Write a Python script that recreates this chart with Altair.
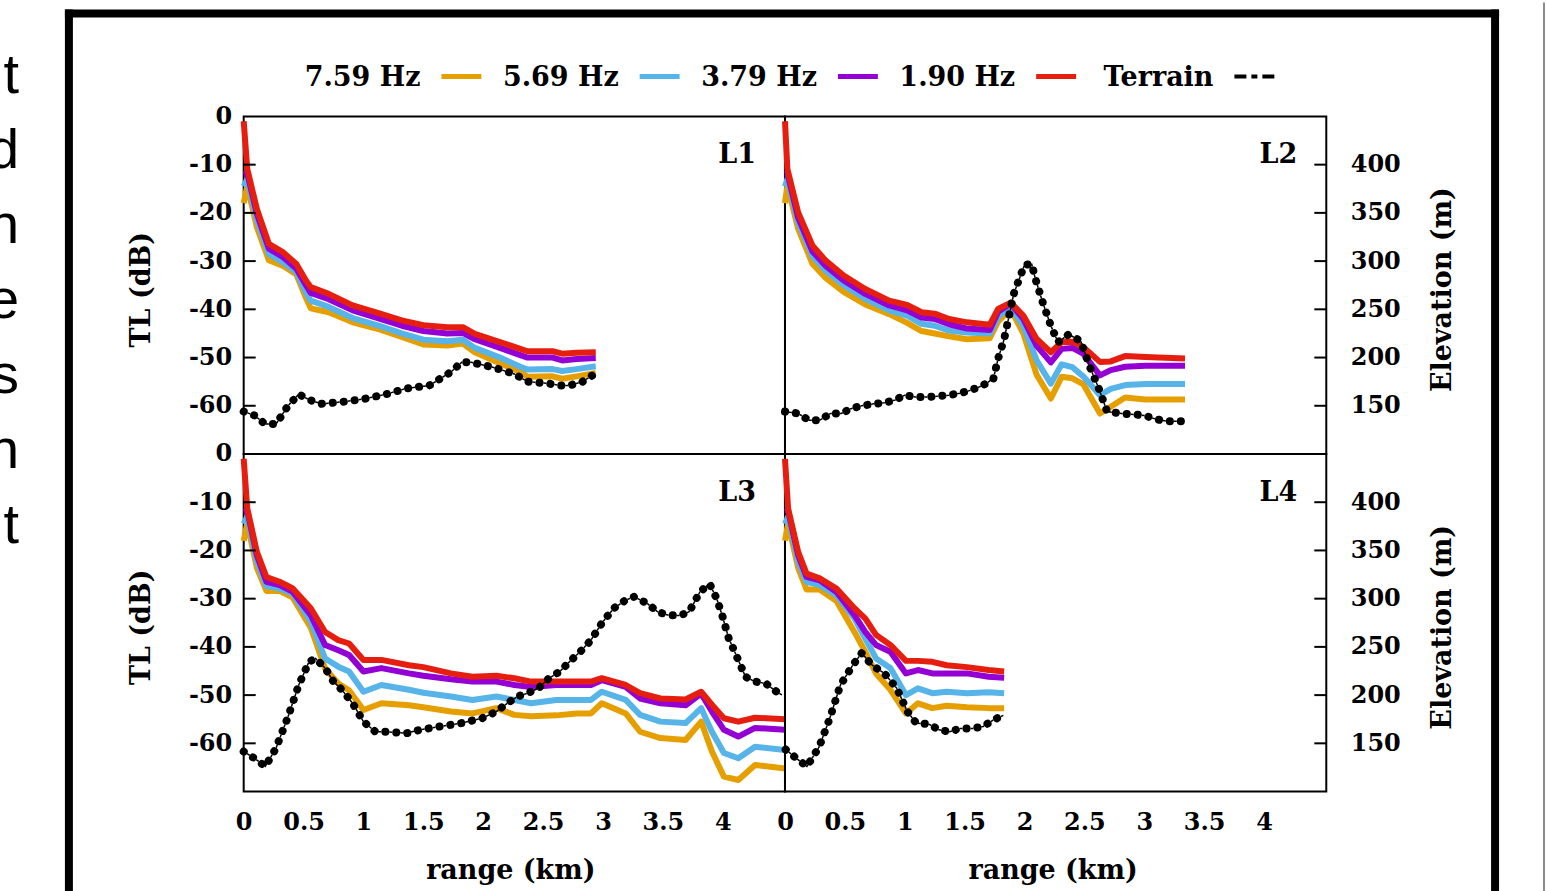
import altair as alt
import pandas as pd

# ---------------- data ----------------
FREQ_LABELS = ["7.59 Hz", "5.69 Hz", "3.79 Hz", "1.90 Hz"]
FREQ_COLORS = ["#E69F00", "#56B4E9", "#9400D3", "#E51E10"]
LEGEND_LABELS = ["7.59 Hz", "5.69 Hz", "3.79 Hz", "1.90 Hz", "Terrain"]
PANEL_LABELS = ["L1", "L2", "L3", "L4"]
SLIDE_LETTERS = ["t", "d", "n", "e", "s", "n", "t"]
TL_TICKS = [-60, -50, -40, -30, -20, -10, 0]
ELEV_TICKS = [150, 200, 250, 300, 350, 400]
RANGE_TICKS = [0, 0.5, 1, 1.5, 2, 2.5, 3, 3.5, 4]

# L1
L1_RANGE = [0.0, 0.03, 0.11, 0.21, 0.33, 0.44, 0.52, 0.56, 0.71, 0.91, 1.14, 1.32,
            1.50, 1.70, 1.83, 1.93, 2.14, 2.31, 2.37, 2.58, 2.66, 2.78, 2.94]
L1_TL_759 = [-18.0, -14.4, -23.0, -29.8, -31.0, -32.8, -37.6, -39.8, -40.6, -42.7, -44.2, -45.7,
             -47.3, -47.5, -47.1, -48.9, -51.2, -53.0, -54.0, -53.9, -54.4, -53.9, -53.2]
L1_TL_569 = [-14.5, -13.0, -21.5, -28.5, -30.3, -32.2, -36.5, -38.2, -39.5, -41.8, -43.5, -45.0,
             -46.3, -46.6, -46.3, -48.0, -50.0, -51.9, -52.5, -52.4, -52.8, -52.4, -51.8]
L1_TL_379 = [-12.0, -11.8, -20.2, -27.4, -29.2, -31.6, -35.0, -36.6, -37.9, -40.2, -42.0, -43.4,
             -44.5, -45.0, -44.9, -46.2, -48.0, -49.5, -50.0, -50.0, -50.6, -50.3, -50.1]
L1_TL_190 = [-1.0, -10.9, -19.2, -26.4, -28.2, -30.6, -34.0, -35.4, -36.8, -39.2, -40.9, -42.3,
             -43.3, -43.7, -43.7, -45.1, -46.8, -48.2, -48.7, -48.7, -49.2, -49.0, -48.9]
L1_TERR_RANGE = [0.0, 0.09, 0.18, 0.27, 0.37, 0.46, 0.55, 0.65, 0.82, 1.0, 1.19, 1.36,
                 1.55, 1.73, 1.82, 1.90, 2.08, 2.26, 2.37, 2.55, 2.64, 2.72, 2.83, 2.93]
L1_TERR_ELEV = [144, 140, 131, 131, 150, 162, 156, 152, 154, 157, 162, 168,
                171, 185, 195, 195, 190, 183, 175, 173, 171, 171, 175, 183]

# L2
L2_RANGE = [0.0, 0.02, 0.11, 0.23, 0.34, 0.49, 0.67, 0.87, 1.02, 1.14, 1.25, 1.37, 1.52, 1.71,
            1.78, 1.885, 1.99, 2.10, 2.22, 2.31, 2.40, 2.49, 2.63, 2.72, 2.84, 3.01, 3.34]
L2_TL_759 = [-18.0, -14.4, -23.3, -30.6, -33.5, -36.4, -39.0, -41.0, -42.8, -44.5, -45.0, -45.6, -46.2, -46.0,
             -42.5, -40.0, -45.0, -53.5, -58.5, -54.0, -54.3, -55.5, -61.6, -60.2, -58.3, -58.7, -58.7]
L2_TL_569 = [-14.5, -13.0, -22.0, -29.0, -32.0, -35.0, -37.8, -40.2, -41.3, -43.0, -43.4, -44.4, -44.8, -45.0,
             -41.5, -39.5, -43.5, -50.5, -55.4, -51.4, -52.0, -53.9, -57.8, -56.5, -55.7, -55.5, -55.5]
L2_TL_379 = [-12.0, -11.8, -21.0, -28.0, -31.0, -34.0, -36.8, -39.2, -40.2, -41.7, -42.0, -43.1, -44.0, -44.3,
             -40.5, -38.8, -42.0, -47.5, -51.0, -48.2, -48.0, -49.2, -53.7, -52.6, -51.9, -51.7, -51.7]
L2_TL_190 = [-1.0, -10.9, -19.9, -26.8, -29.9, -33.0, -35.8, -38.2, -39.1, -40.6, -40.9, -42.0, -42.7, -43.2,
             -39.9, -38.6, -41.3, -46.1, -48.9, -46.8, -46.7, -47.8, -50.9, -50.8, -49.7, -49.9, -50.2]
L2_TERR_RANGE = [0.0, 0.11, 0.2, 0.29, 0.38, 0.47, 0.55, 0.64, 0.74, 0.83,
                 0.92, 1.0, 1.09, 1.19, 1.28, 1.37, 1.46, 1.55, 1.65, 1.74,
                 1.78, 1.83, 1.91, 2.0, 2.06, 2.09, 2.15, 2.22, 2.28, 2.37,
                 2.47, 2.54, 2.62, 2.69, 2.81, 2.91, 3.0, 3.1, 3.19, 3.29, 3.34]
L2_TERR_ELEV = [144, 142, 135, 135, 142, 142, 147, 150, 152, 153,
                156, 161, 159, 159, 160, 161, 163, 166, 171, 178,
                199, 219, 266, 296, 297, 282, 258, 233, 216, 224,
                217, 192, 168, 144, 142, 141, 140, 136, 134, 134, 134]

# L3
L3_RANGE = [0.0, 0.03, 0.11, 0.19, 0.30, 0.41, 0.56, 0.68, 0.79, 0.88,
            1.0, 1.15, 1.38, 1.50, 1.73, 1.91, 2.11, 2.26, 2.40, 2.61,
            2.78, 2.90, 2.99, 3.19, 3.31, 3.48, 3.69, 3.82, 3.91, 4.01,
            4.13, 4.27, 4.52]
L3_TL_759 = [-18.0, -14.4, -23.6, -28.4, -28.4, -29.8, -36.0, -44.5, -47.6, -49.0,
             -53.1, -51.7, -52.1, -52.5, -53.4, -53.8, -52.7, -54.1, -54.4, -54.2,
             -53.8, -53.8, -51.7, -53.8, -57.6, -58.9, -59.3, -55.5, -61.7, -66.9,
             -67.6, -64.5, -65.2]
L3_TL_569 = [-14.5, -13.0, -22.3, -27.4, -27.9, -29.0, -34.7, -42.4, -44.1, -45.1,
             -49.3, -47.9, -48.9, -49.5, -50.3, -51.0, -50.3, -51.0, -51.7, -51.0,
             -51.0, -51.0, -49.3, -51.0, -54.1, -55.5, -55.8, -52.7, -57.6, -62.0,
             -63.1, -60.7, -61.4]
L3_TL_379 = [-12.0, -11.8, -21.0, -26.5, -27.2, -28.6, -33.4, -39.6, -40.7, -41.7,
             -45.1, -44.4, -45.5, -46.0, -46.7, -47.2, -47.2, -47.9, -48.3, -47.9,
             -47.9, -47.9, -46.9, -48.3, -50.7, -51.7, -52.1, -49.7, -53.4, -57.2,
             -58.6, -56.8, -57.2]
L3_TL_190 = [-1.0, -11.3, -20.3, -25.5, -26.5, -27.9, -32.0, -36.9, -38.6, -39.3,
             -42.7, -42.7, -43.8, -44.2, -45.5, -46.2, -46.0, -46.5, -47.2, -47.2,
             -47.2, -47.2, -46.5, -47.9, -49.6, -50.7, -50.9, -49.3, -52.0, -54.8,
             -55.5, -54.7, -55.0]
L3_TERR_RANGE = [0.0, 0.09, 0.18, 0.27, 0.37, 0.46, 0.545, 0.60, 0.68, 0.75,
                 0.82, 0.91, 1.0, 1.1, 1.2, 1.36, 1.47, 1.64, 1.82, 1.99,
                 2.11, 2.2, 2.285, 2.37, 2.46, 2.55, 2.64, 2.72, 2.81, 2.9,
                 2.99, 3.09, 3.19, 3.26, 3.37, 3.455, 3.54, 3.645, 3.72, 3.81,
                 3.89, 3.95, 3.995, 4.05, 4.10, 4.19, 4.27, 4.36, 4.45, 4.52]
L3_TERR_ELEV = [141.5, 134.5, 126, 145, 177.5, 210.5, 234.5, 238, 228, 214,
                205.5, 191.5, 172.5, 162, 162, 160.5, 164, 167.5, 171, 176,
                183, 191.5, 198.5, 202, 207, 217.5, 224.5, 234.5, 245, 257,
                274.5, 290, 298.5, 302, 295, 286.5, 283, 282.5, 286.5, 307,
                315.5, 300, 283, 259, 245, 219, 214, 212, 203.5, 198.5]

# L4
L4_RANGE = [0.0, 0.026, 0.11, 0.18, 0.29, 0.43, 0.58, 0.67, 0.76, 0.88,
            1.01, 1.11, 1.23, 1.35, 1.52, 1.70, 1.83]
L4_TL_759 = [-18.0, -14.4, -23.6, -28.1, -28.1, -30.5, -36.9, -41.0, -45.5, -48.9,
             -53.8, -51.7, -52.7, -52.2, -52.5, -52.7, -52.7]
L4_TL_569 = [-14.5, -13.0, -22.3, -26.5, -27.2, -29.3, -34.1, -38.2, -42.4, -44.4,
             -50.0, -48.6, -49.6, -49.3, -49.6, -49.4, -49.6]
L4_TL_379 = [-12.0, -11.8, -21.0, -25.5, -26.2, -28.6, -33.4, -36.9, -39.6, -41.0,
             -45.5, -44.8, -45.5, -45.5, -45.5, -46.2, -46.4]
L4_TL_190 = [-1.0, -11.3, -20.3, -24.8, -25.8, -27.9, -32.0, -34.1, -37.5, -39.6,
             -42.9, -42.9, -43.1, -43.8, -44.2, -44.8, -45.1]
L4_TERR_RANGE = [0.006, 0.095, 0.183, 0.286, 0.374, 0.463, 0.566, 0.64, 0.728, 0.83,
                 0.934, 1.022, 1.096, 1.2, 1.287, 1.375, 1.464, 1.567, 1.655, 1.744, 1.832]
L4_TERR_ELEV = [143.5, 134.5, 126, 146.5, 176, 210.5, 231, 243.5, 231, 222.5,
                207, 183, 171, 170, 164, 162, 165.5, 165.5, 167.5, 174.5, 179.5]

# ---------------- layout constants ----------------
W, H = 542, 338
SERIF = "DejaVu Serif"


def sx():
    return alt.Scale(domain=[0, 4.52], nice=False, zero=False)


def stl():
    return alt.Scale(domain=[-70, 0], nice=False, zero=False)


def sel():
    return alt.Scale(domain=[100, 450], nice=False, zero=False)


def panel(idx, rng, series, trng, telev, left, bottom, pre=(), post=()):
    layers = list(pre)
    for k, (vals, col) in enumerate(zip(series, FREQ_COLORS)):
        df = pd.DataFrame({"range": rng, "TL": vals})
        x_axis = None
        y_axis = None
        if k == 0 and bottom:
            x_axis = alt.Axis(values=RANGE_TICKS, labelExpr="'' + datum.value",
                              labelPadding=19, labelFlush=False, title="range (km)",
                              titleX=267 if left else 268, titleY=79,
                              titleBaseline="middle", titleAlign="center")
        if k == 0 and left:
            y_axis = alt.Axis(values=TL_TICKS, labelExpr="'' + datum.value",
                              labelPadding=12, title="TL (dB)", titleX=-102, titleY=173,
                              titleAngle=270, titleBaseline="middle", titleAlign="center")
        layers.append(
            alt.Chart(df).mark_line(color=col, strokeWidth=6, strokeJoin="round").encode(
                x=alt.X("range:Q", scale=sx(), axis=x_axis),
                y=alt.Y("TL:Q", scale=stl(), axis=y_axis),
            )
        )
    tdf = pd.DataFrame({"range": trng, "elev": telev})
    e_axis = None
    if not left:
        e_axis = alt.Axis(values=ELEV_TICKS, orient="right", labelExpr="'' + datum.value",
                          labelPadding=24, labelAlign="left", title="Elevation (m)",
                          titleX=116.5, titleY=173, titleAngle=270,
                          titleBaseline="middle", titleAlign="center")
    base = alt.Chart(tdf)
    layers.append(
        base.mark_line(color="black", strokeWidth=1.5, strokeDash=[3, 8],
                       strokeDashOffset=7).encode(
            x=alt.X("range:Q", scale=sx(), axis=None),
            y=alt.Y("elev:Q", scale=sel(), axis=None),
        )
    )
    layers.append(
        base.mark_line(color="black", strokeWidth=8, strokeDash=[0.1, 10.9],
                       strokeCap="round").encode(
            x=alt.X("range:Q", scale=sx(), axis=None),
            y=alt.Y("elev:Q", scale=sel(), axis=e_axis),
        )
    )
    if left:
        tk = pd.DataFrame({"tick": TL_TICKS[:-1]})
        layers.append(
            alt.Chart(tk).mark_rule(color="black", strokeWidth=2).encode(
                y=alt.Y("tick:Q", scale=stl(), axis=None),
                x=alt.value(0), x2=alt.value(12),
            )
        )
    else:
        tk = pd.DataFrame({"tick": ELEV_TICKS})
        layers.append(
            alt.Chart(tk).mark_rule(color="black", strokeWidth=2).encode(
                y=alt.Y("tick:Q", scale=sel(), axis=None),
                x=alt.value(W - 12), x2=alt.value(W),
            )
        )
    layers.append(
        alt.Chart(pd.DataFrame({"name": [PANEL_LABELS[idx]]})).mark_text(
            font=SERIF, fontWeight="bold", fontSize=27, align="right",
            baseline="alphabetic", color="black").encode(
            x=alt.value(W - 29), y=alt.value(47), text="name:N")
    )
    layers.extend(post)
    return alt.layer(*layers).resolve_scale(x="independent", y="independent").properties(
        width=W, height=H)


# ---------------- decorations carried by the first panel ----------------
one = pd.DataFrame({"k": [0]})
page_rect = alt.Chart(one).mark_rect(opacity=0).encode(
    x=alt.value(-293), x2=alt.value(1303), y=alt.value(-114), y2=alt.value(777))

legend_df = pd.DataFrame({"idx": list(range(5)), "label": LEGEND_LABELS})
leg_scale = alt.Scale(domain=[-177 / 198.5, (W - 177) / 198.5], nice=False, zero=False)
legend_text = alt.Chart(legend_df).mark_text(
    font=SERIF, fontWeight="bold", fontSize=27, align="right", baseline="alphabetic",
    color="black").encode(
    x=alt.X("idx:Q", scale=leg_scale, axis=None), y=alt.value(-30), text="label:N")
legend_lines = alt.Chart(legend_df).transform_filter("datum.idx < 4").mark_rule(
    strokeWidth=5, xOffset=21, x2Offset=61).encode(
    x=alt.X("idx:Q", scale=leg_scale, axis=None), x2="idx:Q", y=alt.value(-40),
    color=alt.Color("label:N", scale=alt.Scale(domain=FREQ_LABELS, range=FREQ_COLORS),
                    legend=None))
legend_terrain = alt.Chart(legend_df).transform_filter("datum.idx == 4").mark_rule(
    strokeWidth=4, color="black", strokeDash=[12, 5, 6, 5, 12], xOffset=21,
    x2Offset=61).encode(
    x=alt.X("idx:Q", scale=leg_scale, axis=None), x2="idx:Q", y=alt.value(-40))

frame_left = alt.Chart(one).mark_rule(color="black", strokeWidth=8).encode(
    x=alt.value(-175), y=alt.value(-107), y2=alt.value(777))
frame_top = alt.Chart(one).mark_rule(color="black", strokeWidth=8).encode(
    x=alt.value(-179), x2=alt.value(1257), y=alt.value(-103))
frame_right = alt.Chart(one).mark_rule(color="black", strokeWidth=8).encode(
    x=alt.value(1253), y=alt.value(-107), y2=alt.value(777))
edge_line = alt.Chart(one).mark_rule(color="#666666", strokeWidth=1.5).encode(
    x=alt.value(1302), y=alt.value(-114), y2=alt.value(777))

slide_df = pd.DataFrame({"row": list(range(len(SLIDE_LETTERS))), "letter": SLIDE_LETTERS})
slide_text = alt.Chart(slide_df).mark_text(
    font="Liberation Sans", fontSize=56, align="right", baseline="alphabetic",
    color="black").encode(
    x=alt.value(-225),
    y=alt.Y("row:Q", scale=alt.Scale(domain=[0.31, 0.31 + H / 75], reverse=True,
                                     nice=False, zero=False), axis=None),
    text="letter:N")

p1 = panel(0, L1_RANGE, [L1_TL_759, L1_TL_569, L1_TL_379, L1_TL_190],
           L1_TERR_RANGE, L1_TERR_ELEV, left=True, bottom=False,
           pre=[page_rect],
           post=[legend_text, legend_lines, legend_terrain, frame_left, frame_top,
                 frame_right, edge_line, slide_text])
p2 = panel(1, L2_RANGE, [L2_TL_759, L2_TL_569, L2_TL_379, L2_TL_190],
           L2_TERR_RANGE, L2_TERR_ELEV, left=False, bottom=False)
p3 = panel(2, L3_RANGE, [L3_TL_759, L3_TL_569, L3_TL_379, L3_TL_190],
           L3_TERR_RANGE, L3_TERR_ELEV, left=True, bottom=True)
p4 = panel(3, L4_RANGE, [L4_TL_759, L4_TL_569, L4_TL_379, L4_TL_190],
           L4_TERR_RANGE, L4_TERR_ELEV, left=False, bottom=True)

chart = alt.concat(p1, p2, p3, p4, columns=2, spacing=0, bounds="flush").properties(
    padding={"left": -50, "top": 0, "right": 0, "bottom": 0}
).configure_view(stroke="black", strokeWidth=2).configure_axis(
    labelFont=SERIF, labelFontSize=24, labelFontWeight="bold", labelColor="black",
    titleFont=SERIF, titleFontSize=27, titleFontWeight="bold", titleColor="black",
    domain=False, ticks=False, tickSize=0, grid=False)

chart.save("out.html", embed_options={"renderer": "svg", "actions": False})
